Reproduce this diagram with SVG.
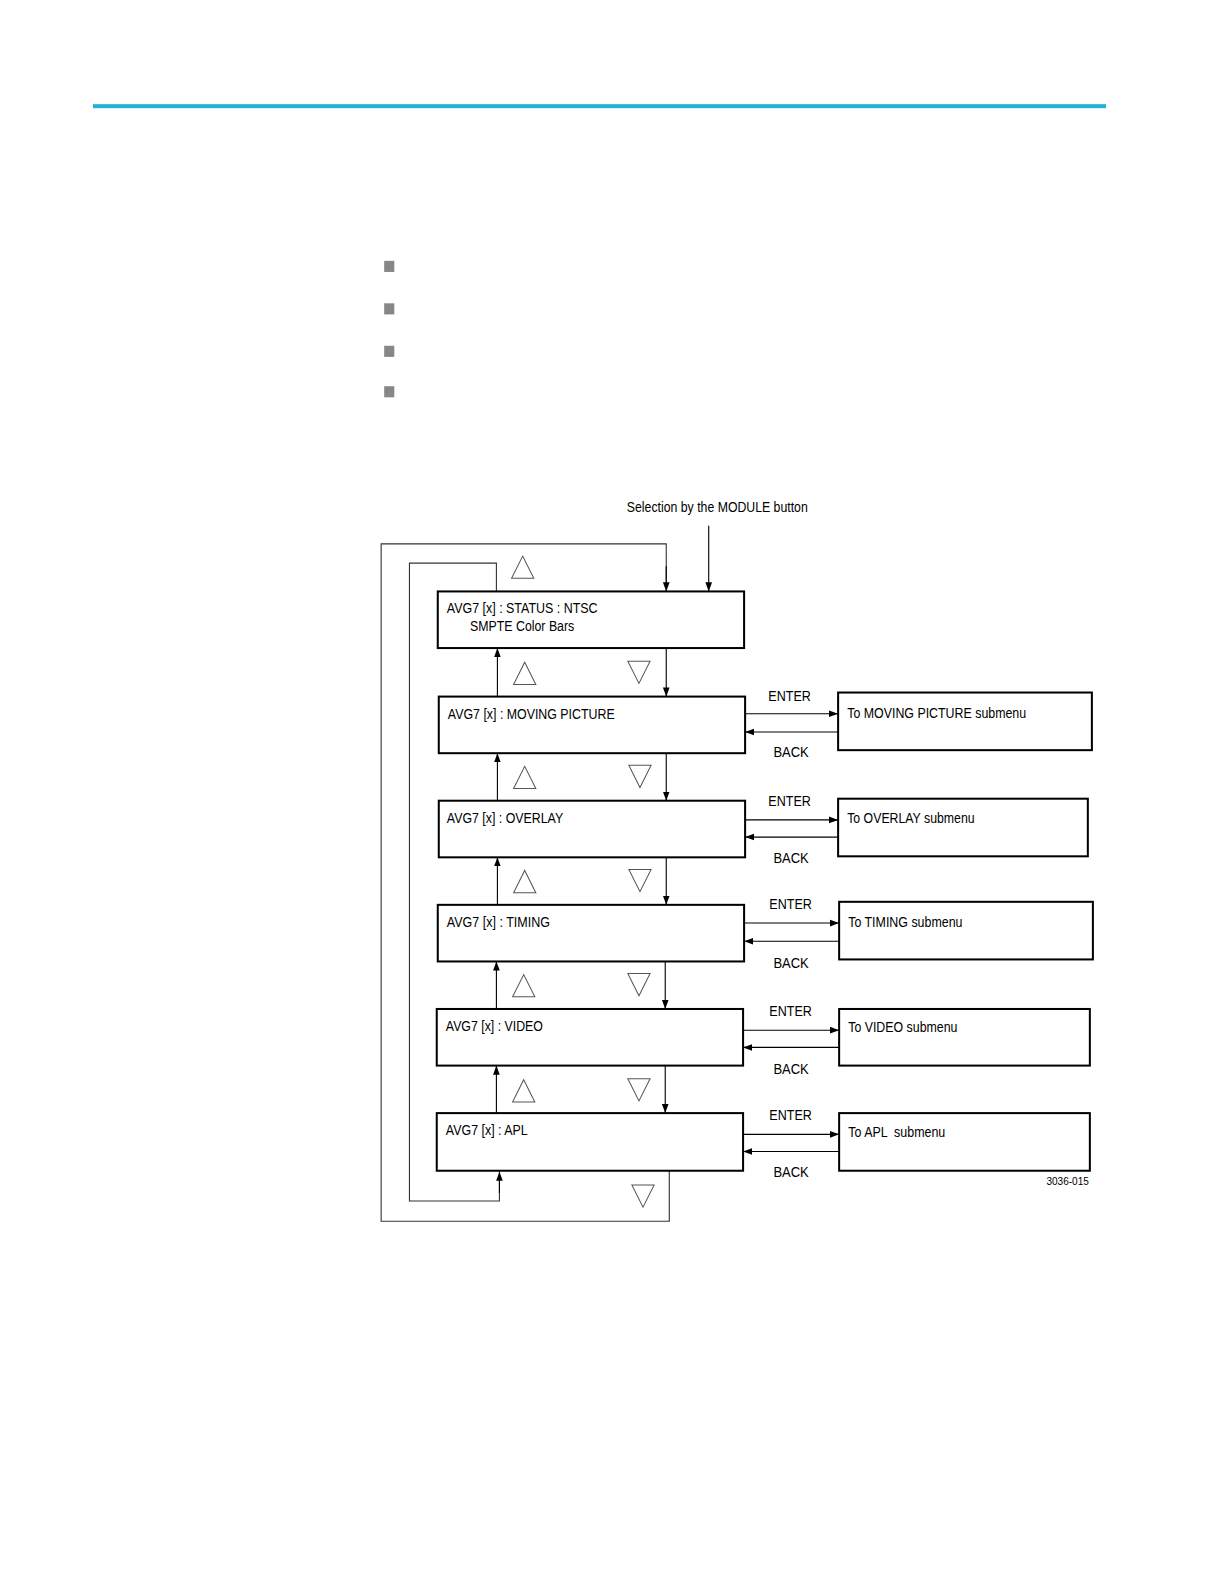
<svg xmlns="http://www.w3.org/2000/svg" width="1224" height="1584" viewBox="0 0 1224 1584">
<style>
.box{fill:#fff;stroke:#000;stroke-width:2}
.ln{fill:none;stroke:#000;stroke-width:1.1}
.lp{fill:none;stroke:#333;stroke-width:1.1}
.tri{fill:none;stroke:#555;stroke-width:1}
text{font-family:"Liberation Sans",Arial,sans-serif;font-size:14px;fill:#000}
.sm{font-size:10px}
.bul{fill:#878787}
</style>
<defs>
<marker id="ah" markerUnits="userSpaceOnUse" markerWidth="10" markerHeight="8" refX="9" refY="4" orient="auto">
<path d="M0,0.7 L9,4 L0,7.3 Z" fill="#000"/>
</marker>
</defs>
<g id="page" transform="scale(1.011)">
<rect x="92" y="103" width="1002" height="4" fill="#22b5d3"/>
<g id="bullets">
<rect class="bul" x="380" y="258" width="10" height="11"/>
<rect class="bul" x="380" y="300" width="10" height="11"/>
<rect class="bul" x="380" y="342" width="10" height="11"/>
<rect class="bul" x="380" y="382" width="10" height="11"/>
</g>
<g id="connectors">
<polyline class="lp" points="659,577 659,538 377,538 377,1208 662,1208 662,1158"/>
<line class="ln" x1="659" y1="560" x2="659" y2="585" marker-end="url(#ah)"/>
<polyline class="lp" points="491,585 491,557 405,557 405,1188 494,1188 494,1166"/>
<line class="ln" x1="494" y1="1180" x2="494" y2="1159" marker-end="url(#ah)"/>
<line class="ln" x1="701" y1="520" x2="701" y2="585" marker-end="url(#ah)"/>
<line class="ln" x1="659" y1="641" x2="659" y2="689" marker-end="url(#ah)"/>
<line class="ln" x1="659" y1="745" x2="659" y2="792" marker-end="url(#ah)"/>
<line class="ln" x1="659" y1="848" x2="659" y2="895" marker-end="url(#ah)"/>
<line class="ln" x1="658" y1="951" x2="658" y2="998" marker-end="url(#ah)"/>
<line class="ln" x1="658" y1="1054" x2="658" y2="1101" marker-end="url(#ah)"/>
<line class="ln" x1="492" y1="689" x2="492" y2="641" marker-end="url(#ah)"/>
<line class="ln" x1="492" y1="792" x2="492" y2="745" marker-end="url(#ah)"/>
<line class="ln" x1="492" y1="895" x2="492" y2="848" marker-end="url(#ah)"/>
<line class="ln" x1="491" y1="998" x2="491" y2="951" marker-end="url(#ah)"/>
<line class="ln" x1="491" y1="1101" x2="491" y2="1054" marker-end="url(#ah)"/>
<line class="ln" x1="737" y1="706" x2="829" y2="706" marker-end="url(#ah)"/>
<line class="ln" x1="829" y1="724" x2="737" y2="724" marker-end="url(#ah)"/>
<line class="ln" x1="737" y1="811" x2="829" y2="811" marker-end="url(#ah)"/>
<line class="ln" x1="829" y1="828" x2="737" y2="828" marker-end="url(#ah)"/>
<line class="ln" x1="736" y1="913" x2="830" y2="913" marker-end="url(#ah)"/>
<line class="ln" x1="830" y1="931" x2="736" y2="931" marker-end="url(#ah)"/>
<line class="ln" x1="735" y1="1019" x2="830" y2="1019" marker-end="url(#ah)"/>
<line class="ln" x1="830" y1="1036" x2="735" y2="1036" marker-end="url(#ah)"/>
<line class="ln" x1="735" y1="1122" x2="830" y2="1122" marker-end="url(#ah)"/>
<line class="ln" x1="830" y1="1139" x2="735" y2="1139" marker-end="url(#ah)"/>
</g>
<g id="triangles">
<path class="tri" d="M506,572 L528,572 L517,550 Z"/>
<path class="tri" d="M508,677 L530,677 L519,655 Z"/>
<path class="tri" d="M621,654 L643,654 L632,676 Z"/>
<path class="tri" d="M508,780 L530,780 L519,758 Z"/>
<path class="tri" d="M622,757 L644,757 L633,779 Z"/>
<path class="tri" d="M508,883 L530,883 L519,861 Z"/>
<path class="tri" d="M622,860 L644,860 L633,882 Z"/>
<path class="tri" d="M507,986 L529,986 L518,964 Z"/>
<path class="tri" d="M621,963 L643,963 L632,985 Z"/>
<path class="tri" d="M507,1090 L529,1090 L518,1068 Z"/>
<path class="tri" d="M621,1067 L643,1067 L632,1089 Z"/>
<path class="tri" d="M625,1172 L647,1172 L636,1194 Z"/>
</g>
<text x="620" y="506" textLength="179" lengthAdjust="spacingAndGlyphs">Selection by the MODULE button</text>
<g id="n1">
<rect class="box" x="433" y="585" width="303" height="56"/>
<text x="442" y="606" textLength="149" lengthAdjust="spacingAndGlyphs">AVG7 [x] : STATUS : NTSC</text>
<text x="465" y="624" textLength="103" lengthAdjust="spacingAndGlyphs">SMPTE Color Bars</text>
</g>
<g id="n2">
<rect class="box" x="434" y="689" width="303" height="56"/>
<text x="443" y="711" textLength="165" lengthAdjust="spacingAndGlyphs">AVG7 [x] : MOVING PICTURE</text>
</g>
<g id="n3">
<rect class="box" x="434" y="792" width="303" height="56"/>
<text x="442" y="814" textLength="115" lengthAdjust="spacingAndGlyphs">AVG7 [x] : OVERLAY</text>
</g>
<g id="n4">
<rect class="box" x="433" y="895" width="303" height="56"/>
<text x="442" y="917" textLength="102" lengthAdjust="spacingAndGlyphs">AVG7 [x] : TIMING</text>
</g>
<g id="n5">
<rect class="box" x="432" y="998" width="303" height="56"/>
<text x="441" y="1020" textLength="96" lengthAdjust="spacingAndGlyphs">AVG7 [x] : VIDEO</text>
</g>
<g id="n6">
<rect class="box" x="432" y="1101" width="303" height="57"/>
<text x="441" y="1123" textLength="81" lengthAdjust="spacingAndGlyphs">AVG7 [x] : APL</text>
</g>
<g id="s2">
<rect class="box" x="829" y="685" width="251" height="57"/>
<text x="838" y="710" textLength="177" lengthAdjust="spacingAndGlyphs">To MOVING PICTURE submenu</text>
</g>
<g id="s3">
<rect class="box" x="829" y="790" width="247" height="57"/>
<text x="838" y="814" textLength="126" lengthAdjust="spacingAndGlyphs">To OVERLAY submenu</text>
</g>
<g id="s4">
<rect class="box" x="830" y="892" width="251" height="57"/>
<text x="839" y="917" textLength="113" lengthAdjust="spacingAndGlyphs">To TIMING submenu</text>
</g>
<g id="s5">
<rect class="box" x="830" y="998" width="248" height="56"/>
<text x="839" y="1021" textLength="108" lengthAdjust="spacingAndGlyphs">To VIDEO submenu</text>
</g>
<g id="s6">
<rect class="box" x="830" y="1101" width="248" height="57"/>
<text x="839" y="1125" textLength="96" lengthAdjust="spacingAndGlyphs" xml:space="preserve">To APL  submenu</text>
</g>
<g id="labels">
<text x="760" y="693" textLength="42" lengthAdjust="spacingAndGlyphs">ENTER</text>
<text x="765" y="749" textLength="35" lengthAdjust="spacingAndGlyphs">BACK</text>
<text x="760" y="797" textLength="42" lengthAdjust="spacingAndGlyphs">ENTER</text>
<text x="765" y="854" textLength="35" lengthAdjust="spacingAndGlyphs">BACK</text>
<text x="761" y="899" textLength="42" lengthAdjust="spacingAndGlyphs">ENTER</text>
<text x="765" y="957" textLength="35" lengthAdjust="spacingAndGlyphs">BACK</text>
<text x="761" y="1005" textLength="42" lengthAdjust="spacingAndGlyphs">ENTER</text>
<text x="765" y="1062" textLength="35" lengthAdjust="spacingAndGlyphs">BACK</text>
<text x="761" y="1108" textLength="42" lengthAdjust="spacingAndGlyphs">ENTER</text>
<text x="765" y="1164" textLength="35" lengthAdjust="spacingAndGlyphs">BACK</text>
<text class="sm" x="1035" y="1172" textLength="42" lengthAdjust="spacingAndGlyphs">3036-015</text>
</g>
</g>
</svg>
